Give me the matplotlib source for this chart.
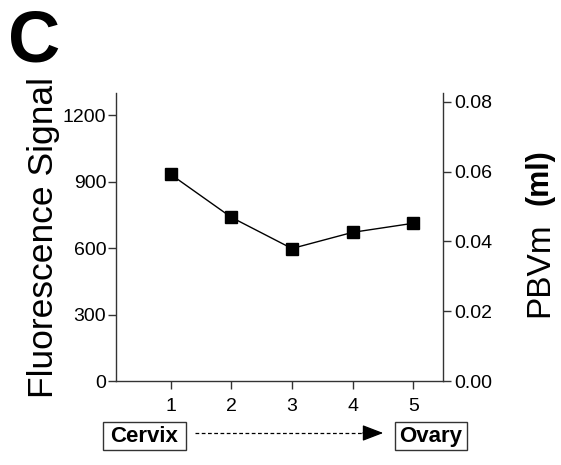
import matplotlib
matplotlib.use("Agg")
import matplotlib.pyplot as plt
from matplotlib.patches import Rectangle, FancyArrowPatch
from matplotlib.lines import Line2D

plt.rcParams['font.family'] = ['Liberation Sans', 'DejaVu Sans']

positions = [1, 2, 3, 4, 5]
signal = [933, 739, 598, 671, 712]
left_ticks = [0, 300, 600, 900, 1200]
right_ticks = [0.00, 0.02, 0.04, 0.06, 0.08]
start_label = "Cervix"
end_label = "Ovary"

W, H = 561, 465
fig = plt.figure(figsize=(W / 100, H / 100), dpi=100)


def fx(x):
    return x / W


def fy(y):
    return 1 - y / H


ax = fig.add_axes([fx(116), fy(381), (443 - 116) / W, (381 - 93) / H])
spine_col = '#333333'

ax.plot(positions, signal, color='black', lw=1.0, marker='s', ms=8.5, mfc='black', mec='black')
ax.set_xlim(0.1, 5.49)
ax.set_ylim(0, 1300)
ax.set_yticks(left_ticks)
ax.set_xticks(positions)
ax.set_xticklabels([str(p) for p in positions])
ax.spines['top'].set_visible(False)
ax.spines['right'].set_visible(False)
for s in ['left', 'bottom']:
    ax.spines[s].set_linewidth(1.0)
    ax.spines[s].set_color(spine_col)
ax.tick_params(direction='out', length=6, width=1.0, labelsize=14, color=spine_col, pad=1)
ax.tick_params(axis='x', pad=6)
ax.set_ylabel('Fluorescence Signal', fontsize=25.5, labelpad=2)

ax2 = ax.twinx()
ax2.set_ylim(0, 0.08 * 288 / 279)
ax2.set_yticks(right_ticks)
ax2.set_yticklabels([f"{v:.2f}" for v in right_ticks])
for s in ['left', 'top', 'bottom']:
    ax2.spines[s].set_visible(False)
ax2.spines['right'].set_linewidth(1.0)
ax2.spines['right'].set_color(spine_col)
ax2.tick_params(direction='out', length=6, width=1.0, labelsize=14, color=spine_col, pad=2)

# right label: "PBVm" regular + "(ml)" bold
fig.text(fx(540), fy(270), 'PBVm', rotation=90, fontsize=24, ha='center', va='center')
fig.text(fx(540), fy(177), '(ml)', rotation=90, fontsize=22, fontweight='bold', ha='center', va='center')

# panel letter
fig.text(fx(8), fy(62), 'C', fontsize=52, fontweight='bold', ha='left', va='baseline')

# bottom boxes and arrow
for (x0, x1, label) in [(103, 186, start_label), (395, 467, end_label)]:
    fig.patches.append(Rectangle((fx(x0), fy(450)), (x1 - x0) / W, (450 - 422) / H,
                                 transform=fig.transFigure, fc='white', ec=spine_col, lw=1.0))
    fig.text(fx((x0 + x1) / 2), fy(436), label, fontsize=16, fontweight='bold',
             ha='center', va='center')

fig.lines.append(Line2D([fx(195), fx(370)], [fy(433), fy(433)], transform=fig.transFigure,
                        color='black', lw=0.9, linestyle=(0, (3, 2))))
fig.patches.append(FancyArrowPatch((fx(360), fy(433)), (fx(386), fy(433)),
                                   transform=fig.transFigure,
                                   arrowstyle='-|>,head_length=0.65,head_width=0.25',
                                   mutation_scale=20, color='black', lw=0.9))

fig.savefig('out.png', dpi=100)
